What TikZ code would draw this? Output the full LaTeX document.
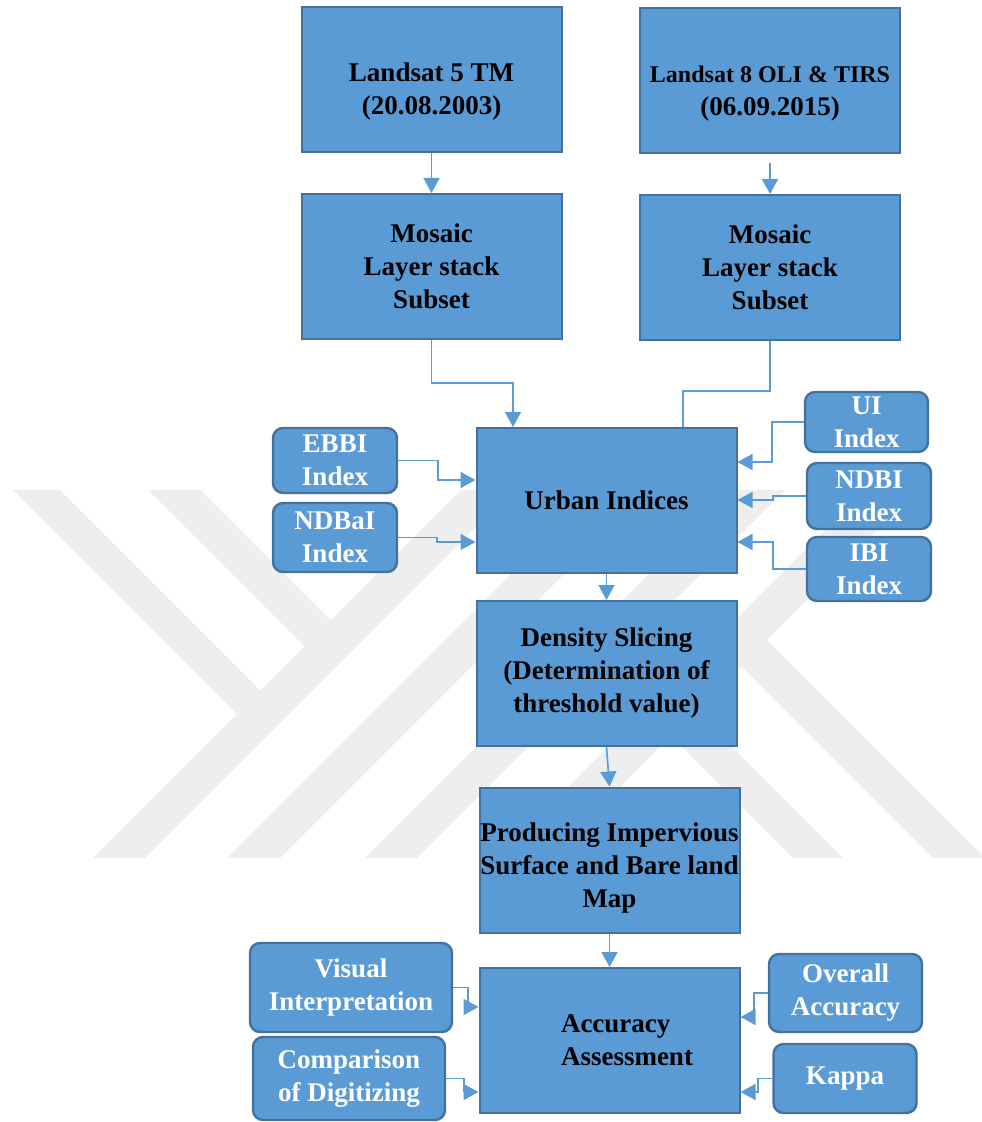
\documentclass[tikz,border=0pt]{standalone}
\usepackage{fontspec}
\setmainfont{Liberation Serif}
\usepackage{tikz}
\usetikzlibrary{arrows.meta}

\definecolor{boxblue}{RGB}{91,155,213}
\definecolor{boxedge}{RGB}{65,113,156}
\definecolor{linkblue}{RGB}{91,155,213}
\definecolor{wmgray}{RGB}{238,238,238}

\begin{document}
\begin{tikzpicture}[
x=0.5pt,y=-0.5pt,
mainbox/.style={draw=boxedge, fill=boxblue, line width=1pt, align=center, inner sep=0pt,
  minimum width=130pt, minimum height=72.5pt, font=\fontsize{13.5}{16.5}\selectfont\bfseries},
idxbox/.style={draw=boxedge, fill=boxblue, line width=1.2pt, rounded corners=5pt, align=center,
  inner sep=0pt, text=white, font=\fontsize{13.5}{16.5}\selectfont\bfseries},
link/.style={draw=linkblue, line width=0.8pt, -{Triangle[length=7.5pt,width=8pt]}},
linkplain/.style={draw=linkblue, line width=0.8pt}
]
\useasboundingbox (0,0) rectangle (981,1122);

% watermark
\fill[wmgray] (93,858) -- (145,858) -- (513,490) -- (461,490) -- cycle;
\fill[wmgray] (13,490) -- (60,490) -- (270,700) -- (247,724) -- cycle;
\fill[wmgray] (148,490) -- (200,490) -- (345,635) -- (318,660) -- cycle;
\fill[wmgray] (227,858) -- (280,858) -- (648,490) -- (595,490) -- cycle;
\fill[wmgray] (365,858) -- (417,858) -- (785,490) -- (733,490) -- cycle;
\fill[wmgray] (497,858) -- (549,858) -- (917,490) -- (865,490) -- cycle;
\fill[wmgray] (793,858) -- (843,858) -- (686,701) -- (661,726) -- cycle;
\fill[wmgray] (933,858) -- (985,858) -- (757,630) -- (731,656) -- cycle;

% main chain
\node[mainbox] (l5) at (431.5,80) {\rule{0pt}{21pt}Landsat 5 TM\\(20.08.2003)};
\node[mainbox] (l8) at (770,80.5) {\rule{0pt}{21pt}{\fontsize{12}{16.5}\selectfont Landsat 8 OLI \& TIRS}\\(06.09.2015)};
\node[mainbox] (mos5) at (431.5,266.5) {Mosaic\\Layer stack\\Subset};
\node[mainbox] (mos8) at (770,267.5) {Mosaic\\Layer stack\\Subset};
\node[mainbox] (urban) at (606.5,500.5) {Urban Indices};
\node[mainbox] (dens) at (606.5,673.5) {Density Slicing\\(Determination of\\threshold value)};
\node[mainbox] (prod) at (609.5,860) {\rule{0pt}{17.7pt}Producing Impervious\\Surface and Bare land\\Map};
\node[mainbox, align=left] (acc) at (609.5,1040.5) {\hspace*{17.5pt}Accuracy\\\hspace*{17.5pt}Assessment};

% index boxes
\node[idxbox, minimum width=62pt, minimum height=32.5pt] (ebbi) at (335,460.5) {EBBI\\Index};
\node[idxbox, minimum width=62pt, minimum height=34.5pt] (ndbai) at (335,537.5) {NDBaI\\Index};
\node[idxbox, minimum width=61.5pt, minimum height=30pt] (ui) at (866.5,422) {UI\\Index};
\node[idxbox, minimum width=62pt, minimum height=33pt] (ndbi) at (869,496) {NDBI\\Index};
\node[idxbox, minimum width=62pt, minimum height=32pt] (ibi) at (869,569) {IBI\\Index};

% accuracy inputs
\node[idxbox, minimum width=101pt, minimum height=44.5pt] (visual) at (351,987.5) {Visual\\Interpretation};
\node[idxbox, minimum width=96pt, minimum height=41.5pt] (comp) at (349,1078.5) {Comparison\\of Digitizing};
\node[idxbox, minimum width=76.5pt, minimum height=39pt] (overall) at (845.5,993) {Overall\\Accuracy};
\node[idxbox, minimum width=71.5pt, minimum height=34.5pt] (kappa) at (845,1078.5) {Kappa};

% connectors
\draw[link] (l5) -- (mos5);
\draw[link, shorten <=4.5pt] (l8) -- (mos8);
\coordinate (k1) at (513,383);
\draw[link] (mos5.south) |- (k1) -- (k1 |- urban.north);
\coordinate (k2) at (683,391);
\draw[linkplain] (mos8.south) |- (k2) -- (k2 |- urban.north);

\coordinate (e1) at (438,480);
\draw[link] (ebbi.east) -| (e1) -- (e1 -| urban.west);
\coordinate (e2) at (437,542);
\draw[link] (ndbai.east) -| (e2) -- (e2 -| urban.west);
\coordinate (u1) at (772,462);
\draw[link] (ui.west) -| (u1) -- (u1 -| urban.east);
\coordinate (u2) at (773,500);
\draw[link] (ndbi.west) -| (u2) -- (u2 -| urban.east);
\coordinate (u3) at (773,542);
\draw[link] (ibi.west) -| (u3) -- (u3 -| urban.east);

\draw[link] (urban) -- (dens);
\draw[link] (dens.south) -- (prod.north);
\draw[link] (prod) -- (acc);

\coordinate (a1) at (468,1007);
\draw[link] (visual.east) -| (a1) -- (a1 -| acc.west);
\coordinate (a2) at (464,1092);
\draw[link] (comp.east) -| (a2) -- (a2 -| acc.west);
\coordinate (a3) at (754,1017);
\draw[link] (overall.west) -| (a3) -- (a3 -| acc.east);
\coordinate (a4) at (758,1092);
\draw[link] (kappa.west) -| (a4) -- (a4 -| acc.east);
\end{tikzpicture}
\end{document}
